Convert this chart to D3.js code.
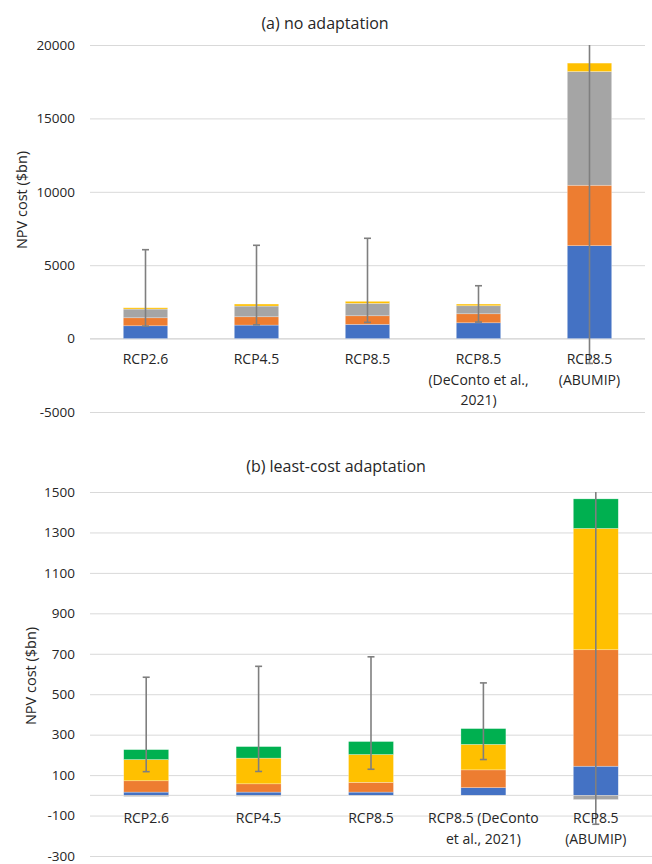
<!DOCTYPE html>
<html>
<head>
<meta charset="utf-8">
<script src="https://cdn.jsdelivr.net/npm/d3@7"></script>
<style>
  html, body { margin: 0; padding: 0; background: #fff; }
  svg text { font-family: "Open Sans", "Noto Sans", sans-serif; fill: #262626; }
</style>
</head>
<body>
<svg id="chart" width="652" height="864"></svg>
<script>
// Scenarios on the horizontal axis
const scenarios = ["RCP2.6", "RCP4.5", "RCP8.5", "RCP8.5 DeConto", "RCP8.5 ABUMIP"];
const labelsA = [["RCP2.6"], ["RCP4.5"], ["RCP8.5"], ["RCP8.5", "(DeConto et al.,", "2021)"], ["RCP8.5", "(ABUMIP)"]];
const labelsB = [["RCP2.6"], ["RCP4.5"], ["RCP8.5"], ["RCP8.5 (DeConto", "et al., 2021)"], ["RCP8.5", "(ABUMIP)"]];

// Cost components, (a) no adaptation, $bn
const blueA   = [873, 921, 968, 1077, 6328];
const orangeA = [545, 566, 587, 614, 4119];
const grayA   = [594, 729, 845, 546, 7747];
const yellowA = [88, 137, 137, 116, 573];
const greenA  = [0, 0, 0, 0, 0];
const errLowA  = [852, 941, 1105, 1125, -1690];
const errHighA = [6056, 6356, 6833, 3601, 22000];

// Cost components, (b) least-cost adaptation, $bn
const blueB   = [16, 16, 16, 38, 144];
const orangeB = [56, 41, 48, 88, 576];
const grayB   = [-6, -5, -3, -2, -21];
const yellowB = [105, 127, 138, 126, 600];
const greenB  = [49, 57, 64, 78, 146];
const errLowB  = [117, 118, 129, 177, -143];
const errHighB = [584, 638, 685, 556, 1600];

// Axis ticks
const ticksA = [-5000, 0, 5000, 10000, 15000, 20000];
const ticksB = [-300, -100, 100, 300, 500, 700, 900, 1100, 1300, 1500];

const keys = ["blue", "orange", "gray", "yellow", "green"];
const colors = { blue: "#4472C4", orange: "#ED7D31", gray: "#A5A5A5", yellow: "#FFC000", green: "#00B050" };

function rows(b, o, g, y, gr) {
  return scenarios.map((s, i) => ({ scenario: s, blue: b[i], orange: o[i], gray: g[i], yellow: y[i], green: gr[i] }));
}

const svg = d3.select("#chart");

function panel(cfg) {
  const g = svg.append("g");
  const x = d3.scaleBand().domain(scenarios).range([cfg.left, cfg.right]).paddingInner(0.6).paddingOuter(0.3);
  const y = d3.scaleLinear().domain(cfg.domain).range([cfg.bottom, cfg.top]);

  // title
  g.append("text").attr("x", cfg.titleX).attr("y", cfg.titleY)
    .attr("text-anchor", "middle").attr("font-size", 16).text(cfg.title);

  // y-axis title
  g.append("text")
    .attr("transform", `translate(${cfg.yTitleX},${cfg.yTitleY}) rotate(-90)`)
    .attr("text-anchor", "middle").attr("font-size", 14.5).text("NPV cost ($bn)");

  // gridlines and tick labels (plain hyphen for negatives)
  const axis = d3.axisLeft(y).tickValues(cfg.ticks).tickSize(-(cfg.right - cfg.left)).tickPadding(15).tickFormat(d => String(d));
  const ag = g.append("g").attr("transform", `translate(${cfg.left},0)`).call(axis);
  ag.select(".domain").remove();
  ag.selectAll(".tick line").attr("stroke", "#d9d9d9").attr("stroke-width", 1);
  ag.selectAll(".tick text").attr("font-size", 13.5).attr("fill", "#262626").attr("font-family", "\"Open Sans\", sans-serif");

  // zero axis line
  g.append("line").attr("x1", cfg.left).attr("x2", cfg.right)
    .attr("y1", y(0)).attr("y2", y(0)).attr("stroke", "#d9d9d9").attr("stroke-width", 1);

  // stacked bars
  const data = rows(...cfg.series);
  const stacked = d3.stack().keys(keys).offset(d3.stackOffsetDiverging)(data);
  g.append("g").selectAll("g").data(stacked).join("g")
    .attr("fill", d => colors[d.key])
    .selectAll("rect").data(d => d).join("rect")
    .attr("x", d => x(d.data.scenario))
    .attr("width", x.bandwidth())
    .attr("y", d => y(Math.max(d[0], d[1])))
    .attr("height", d => Math.abs(y(d[0]) - y(d[1])))
    .attr("stroke", "rgba(255,255,255,0.45)").attr("stroke-width", 0.6);

  // error bars, clipped to the plot area
  const clipId = "clip-" + cfg.id;
  svg.append("clipPath").attr("id", clipId).append("rect")
    .attr("x", cfg.left).attr("y", cfg.top).attr("width", cfg.right - cfg.left).attr("height", cfg.bottom - cfg.top);
  const eg = g.append("g").attr("clip-path", `url(#${clipId})`)
    .attr("stroke", "#7f7f7f").attr("stroke-width", 1.6);
  scenarios.forEach((s, i) => {
    const cx = x(s) + x.bandwidth() / 2;
    const lo = y(cfg.errLow[i]), hi = y(cfg.errHigh[i]);
    eg.append("line").attr("x1", cx).attr("x2", cx).attr("y1", lo).attr("y2", hi);
    eg.append("line").attr("x1", cx - 3.5).attr("x2", cx + 3.5).attr("y1", lo).attr("y2", lo);
    eg.append("line").attr("x1", cx - 3.5).attr("x2", cx + 3.5).attr("y1", hi).attr("y2", hi);
  });

  // category labels
  const lg = g.append("g");
  scenarios.forEach((s, i) => {
    const t = lg.append("text").attr("x", x(s) + x.bandwidth() / 2).attr("y", cfg.labelY)
      .attr("text-anchor", "middle").attr("font-size", 14);
    cfg.labels[i].forEach((line, j) => {
      t.append("tspan").attr("x", x(s) + x.bandwidth() / 2).attr("dy", j === 0 ? 0 : 20.7).text(line);
    });
  });
}

panel({
  id: "a", title: "(a) no adaptation", titleX: 325, titleY: 29,
  left: 90, right: 645, top: 45, bottom: 412, domain: [-5000, 20000], ticks: ticksA,
  yTitleX: 27, yTitleY: 200, labelY: 364, labels: labelsA,
  series: [blueA, orangeA, grayA, yellowA, greenA], errLow: errLowA, errHigh: errHighA
});

panel({
  id: "b", title: "(b) least-cost adaptation", titleX: 336, titleY: 472,
  left: 90, right: 652, top: 492, bottom: 856, domain: [-300, 1500], ticks: ticksB,
  yTitleX: 36, yTitleY: 676, labelY: 823, labels: labelsB,
  series: [blueB, orangeB, grayB, yellowB, greenB], errLow: errLowB, errHigh: errHighB
});
</script>
</body>
</html>
